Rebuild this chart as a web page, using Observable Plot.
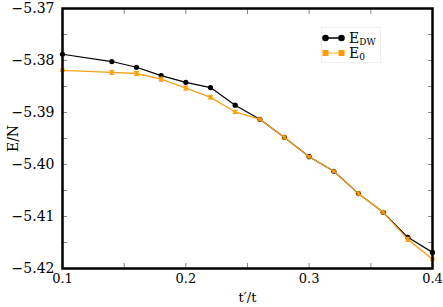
<!DOCTYPE html>
<html><head><meta charset="utf-8">
<script src="https://cdn.jsdelivr.net/npm/d3@7"></script>
<script src="https://cdn.jsdelivr.net/npm/@observablehq/plot@0.6"></script>
<style>
body{margin:0;background:#fff}
#wrap{position:relative;width:443px;height:307px;font-family:"DejaVu Serif",serif}
svg.plotchart text{font-family:"DejaVu Serif" !important}
#legend{position:absolute;left:321px;top:27px;width:58px;height:34px;background:#fff;border:1px solid #f0f0f0;color:#000}
#legend .row{position:absolute;left:0;height:14px;display:flex;align-items:center}
#legend svg{display:block}
#legend span{margin-left:4px;line-height:13px;font-size:14px;font-family:"DejaVu Serif",serif}
#legend sub{font-size:9px;vertical-align:-2px;line-height:0}
</style></head><body><div id="wrap"></div>
<script>
const ratio = [0.10,0.14,0.16,0.18,0.20,0.22,0.24,0.26,0.28,0.30,0.32,0.34,0.36,0.38,0.40];
const eDW   = [-5.3788,-5.3802,-5.3813,-5.3829,-5.3842,-5.3852,-5.3886,-5.3913,-5.3948,-5.3985,-5.4013,-5.4056,-5.4092,-5.4140,-5.4169];
const e0    = [-5.3819,-5.3823,-5.3825,-5.3836,-5.3853,-5.3871,-5.3899,-5.3913,-5.3948,-5.3985,-5.4013,-5.4056,-5.4092,-5.4144,-5.4182];
const e0Err = [0.0002,0.0004,0.0004,0.0004,0.0004,0.0003,0.0003,0.0002,0.0003,0.0002,0.0002,0.0003,0.0003,0.0004,0.0002];
const xLabelTicks = [0.1,0.2,0.3,0.4];
const xTickMarks = [0.1,0.15,0.2,0.25,0.3,0.35,0.4];
const yLabelTicks = [-5.42,-5.41,-5.40,-5.39,-5.38,-5.37];
const yTickMarks = [-5.42,-5.415,-5.41,-5.405,-5.40,-5.395,-5.39,-5.385,-5.38,-5.375,-5.37];

const dw = ratio.map((x,i)=>({x, y:eDW[i]}));
const g0 = ratio.map((x,i)=>({x, y:e0[i], lo:e0[i]-e0Err[i], hi:e0[i]+e0Err[i]}));

const BLACK = "#000", ORANGE_LINE = "#f4a11c", ORANGE = "#ff9b00";
const tickStyle = {stroke:"#888", strokeWidth:1};

const chart = Plot.plot({
  className: "plotchart",
  width: 443, height: 307,
  marginLeft: 62, marginRight: 11, marginTop: 8, marginBottom: 39,
  style: {fontSize: "14px", color:"#000", background:"#fff"},
  x: {domain:[0.1,0.4]},
  y: {domain:[-5.42,-5.37]},
  marks: [
    Plot.axisX(xTickMarks, {anchor:"bottom", tickSize:-5, tickFormat:()=>"", label:null, ...tickStyle}),
    Plot.axisX(xTickMarks, {anchor:"top", tickSize:-5, tickFormat:()=>"", label:null, ...tickStyle}),
    Plot.axisY(yTickMarks, {anchor:"left", tickSize:-5, tickFormat:()=>"", label:null, ...tickStyle}),
    Plot.axisY(yTickMarks, {anchor:"right", tickSize:-5, tickFormat:()=>"", label:null, ...tickStyle}),
    Plot.axisX(xLabelTicks, {anchor:"bottom", tickSize:0, tickPadding:5, tickFormat:d3.format(".1f"),
      label:"t′/t", labelAnchor:"center", labelArrow:"none", labelOffset:33, fill:"#000", fontSize:13}),
    Plot.axisY(yLabelTicks, {anchor:"left", tickSize:0, tickPadding:8, tickFormat:d3.format(".2f"),
      label:"E/N", labelAnchor:"center", labelArrow:"none", labelOffset:54, fill:"#000", fontSize:14}),
    Plot.line(dw, {x:"x", y:"y", stroke:BLACK, strokeWidth:1.2}),
    Plot.dot(dw, {x:"x", y:"y", r:2.6, fill:BLACK, stroke:"none"}),
    Plot.line(g0, {x:"x", y:"y", stroke:ORANGE_LINE, strokeWidth:1.3}),
    Plot.ruleX(g0, {x:"x", y1:"lo", y2:"hi", stroke:ORANGE_LINE, strokeWidth:1}),
    Plot.link(g0, {x1:d=>d.x-0.002, x2:d=>d.x+0.002, y1:"lo", y2:"lo", stroke:ORANGE_LINE, strokeWidth:1}),
    Plot.link(g0, {x1:d=>d.x-0.002, x2:d=>d.x+0.002, y1:"hi", y2:"hi", stroke:ORANGE_LINE, strokeWidth:1}),
    Plot.dot(g0, {x:"x", y:"y", symbol:"square", r:2.2, fill:ORANGE, fillOpacity:0.8, stroke:"none"}),
    Plot.frame({stroke:"#000", strokeWidth:2.5})
  ]
});
const wrap = document.getElementById("wrap");
wrap.appendChild(chart);

const legendItems = [
  {name:"E", sub:"DW", color:BLACK, line:BLACK, shape:"circle"},
  {name:"E", sub:"0", color:ORANGE, line:"#ffc56b", shape:"square"}
];
const leg = document.createElement("div");
leg.id = "legend";
legendItems.forEach((it,i)=>{
  const row = document.createElement("div");
  row.className = "row";
  row.style.top = (3 + i*15) + "px";
  const m = it.shape==="circle"
    ? `<circle cx="3.5" cy="7" r="3.3" fill="${it.color}"/><circle cx="19.5" cy="7" r="3.3" fill="${it.color}"/>`
    : `<rect x="0.5" y="4" width="6" height="6" fill="${it.color}"/><rect x="16.5" y="4" width="6" height="6" fill="${it.color}"/>`;
  row.innerHTML = `<svg width="23" height="14"><line x1="3" x2="20" y1="7" y2="7" stroke="${it.line}" stroke-width="1.5"/>${m}</svg><span>${it.name}<sub>${it.sub}</sub></span>`;
  leg.appendChild(row);
});
wrap.appendChild(leg);
</script>
</body></html>
